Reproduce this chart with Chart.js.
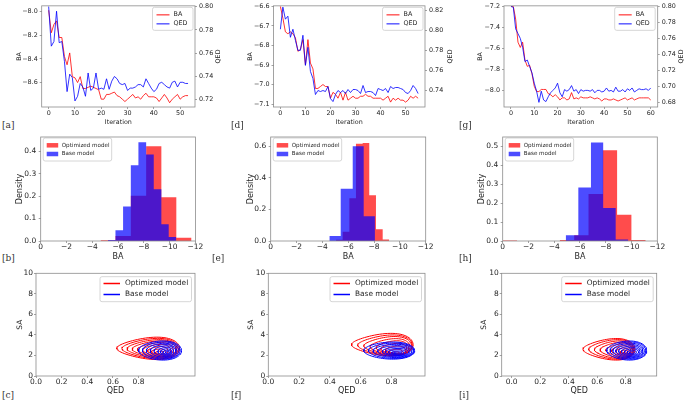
<!DOCTYPE html>
<html>
<head>
<meta charset="utf-8">
<script src="https://cdn.jsdelivr.net/npm/chart.js@4.4.1/dist/chart.umd.min.js"></script>
<style>
body { margin: 0; background: #fff; width: 685px; height: 402px; overflow: hidden; position: relative; }
canvas { position: absolute; }
.tag { position: absolute; font: 9px 'DejaVu Serif'; color: #333; }
</style>
</head>
<body>
<canvas id="chart-a"></canvas>
<canvas id="chart-d"></canvas>
<canvas id="chart-g"></canvas>
<canvas id="chart-b"></canvas>
<canvas id="chart-e"></canvas>
<canvas id="chart-h"></canvas>
<canvas id="chart-c"></canvas>
<canvas id="chart-f"></canvas>
<canvas id="chart-i"></canvas>
<div class="tag" style="left:2px;top:120px">[a]</div>
<div class="tag" style="left:231px;top:120px">[d]</div>
<div class="tag" style="left:459px;top:120px">[g]</div>
<div class="tag" style="left:2px;top:253px">[b]</div>
<div class="tag" style="left:212px;top:253px">[e]</div>
<div class="tag" style="left:459px;top:253px">[h]</div>
<div class="tag" style="left:2px;top:390px">[c]</div>
<div class="tag" style="left:231px;top:390px">[f]</div>
<div class="tag" style="left:459px;top:390px">[i]</div>
<script>
// ---- top row: optimisation traces (one value per iteration) ----
const lineNames = ['BA', 'QED']

const aBA = [-7.99,-8.18,-8.11,-8.08,-8.22,-8.22,-8.38,-8.45,-8.35,-8.55,
  -8.56,-8.60,-8.55,-8.65,-8.65,-8.64,-8.63,-8.64,-8.65,-8.66,
  -8.74,-8.74,-8.70,-8.70,-8.69,-8.68,-8.71,-8.72,-8.74,-8.76,
  -8.74,-8.72,-8.70,-8.73,-8.72,-8.74,-8.71,-8.69,-8.72,-8.72,
  -8.72,-8.73,-8.76,-8.73,-8.70,-8.73,-8.77,-8.74,-8.72,-8.70,
  -8.74,-8.72,-8.71,-8.71]
const aQED = [0.800,0.766,0.770,0.796,0.769,0.770,0.753,0.727,0.742,0.739,
  0.719,0.723,0.734,0.731,0.723,0.743,0.728,0.730,0.743,0.729,
  0.730,0.729,0.738,0.729,0.736,0.740,0.738,0.734,0.733,0.734,
  0.728,0.730,0.730,0.731,0.733,0.733,0.731,0.738,0.734,0.730,
  0.727,0.729,0.734,0.735,0.733,0.731,0.730,0.735,0.736,0.731,
  0.735,0.735,0.734,0.734]

const dBA = [-6.60,-6.66,-6.73,-6.74,-6.73,-6.74,-6.76,-6.83,-6.82,-6.77,
  -6.90,-6.77,-6.89,-6.92,-7.02,-7.02,-7.01,-7.00,-7.01,-7.01,
  -7.07,-7.04,-7.05,-7.07,-7.04,-7.08,-7.04,-7.08,-7.07,-7.06,
  -7.07,-7.07,-7.06,-7.06,-7.05,-7.06,-7.06,-7.07,-7.07,-7.07,
  -7.07,-7.08,-7.07,-7.06,-7.09,-7.07,-7.08,-7.07,-7.08,-7.08,
  -7.09,-7.08,-7.06,-7.07,-7.06,-7.07]
const dQED = [0.801,0.823,0.811,0.814,0.793,0.801,0.790,0.780,0.780,0.795,
  0.765,0.783,0.759,0.752,0.736,0.740,0.739,0.740,0.739,0.744,
  0.732,0.729,0.736,0.740,0.738,0.740,0.737,0.741,0.738,0.741,
  0.741,0.740,0.737,0.745,0.738,0.739,0.739,0.738,0.735,0.742,
  0.741,0.740,0.742,0.738,0.744,0.742,0.743,0.743,0.742,0.741,
  0.738,0.737,0.740,0.745,0.742,0.737]

const gBA = [-7.20,-7.20,-7.32,-7.54,-7.59,-7.54,-7.71,-7.77,-7.76,-7.84,
  -7.96,-8.01,-8.01,-7.99,-7.99,-7.99,-8.03,-8.04,-8.06,-8.04,
  -8.06,-8.09,-8.07,-8.07,-8.09,-8.08,-8.02,-8.08,-8.07,-8.08,
  -8.06,-8.07,-8.07,-8.07,-8.06,-8.07,-8.08,-8.07,-8.08,-8.10,
  -8.08,-8.08,-8.09,-8.09,-8.08,-8.09,-8.10,-8.09,-8.08,-8.07,
  -8.09,-8.08,-8.07,-8.09,-8.08,-8.07,-8.07,-8.07,-8.07,-8.07,
  -8.09]
const gQED = [0.800,0.799,0.772,0.766,0.760,0.749,0.731,0.733,0.725,0.717,
  0.704,0.694,0.680,0.694,0.683,0.681,0.687,0.692,0.695,0.698,
  0.704,0.692,0.687,0.696,0.694,0.696,0.701,0.694,0.696,0.691,
  0.696,0.694,0.695,0.695,0.694,0.696,0.692,0.695,0.695,0.693,
  0.694,0.698,0.694,0.695,0.693,0.699,0.694,0.694,0.696,0.693,
  0.697,0.695,0.698,0.693,0.695,0.697,0.696,0.696,0.697,0.695,
  0.698]

// ---- middle row: BA histograms (bin edges + density per bin) ----
const modelNames = ['Optimized model', 'Base model']

const bOptEdges = [-4.64,-5.80,-6.99,-8.18,-9.36,-10.52,-11.70]
const bOptDensity = [0.003,0.022,0.202,0.422,0.195,0.015]
const bBaseEdges = [-5.22,-5.80,-6.39,-6.99,-7.58,-8.18,-8.77,-9.36,-9.93,-10.52]
const bBaseDensity = [0.005,0.048,0.154,0.337,0.440,0.385,0.230,0.075,0.018]

const eOptEdges = [-5.06,-5.57,-6.09,-6.60,-7.12,-7.63,-8.15,-8.67,-9.18]
const eOptDensity = [0.008,0.058,0.270,0.615,0.620,0.290,0.075,0.010]
const eBaseEdges = [-4.54,-5.42,-6.35,-7.20,-8.07]
const eBaseDensity = [0.031,0.330,0.600,0.156]

const hOptEdges = [0,-1.11,-2.22,-3.33,-4.44,-5.55,-6.66,-7.77,-8.88,-9.99,-11.10]
const hOptDensity = [0.003,0,0,0,0.005,0.030,0.248,0.479,0.139,0.005]
const hBaseEdges = [-4.89,-5.87,-6.85,-7.80,-8.77,-9.75]
const hBaseDensity = [0.031,0.283,0.520,0.174,0.008]

// ---- bottom row: KDE contour rings, each [QED left, QED right, SA top, SA bottom] ----
const cOptRings = [[0.63,1.12,3.73,1.65],[0.67,1.11,3.62,1.72],[0.71,1.10,3.50,1.80],[0.75,1.09,3.38,1.86],
  [0.79,1.07,3.22,1.92],[0.83,1.05,3.05,1.98],[0.87,1.03,2.85,2.04],[0.90,1.01,2.62,2.10],[0.93,0.99,2.42,2.15]]
const cBaseRings = [[0.80,1.135,3.40,1.56],[0.83,1.125,3.30,1.65],[0.86,1.115,3.18,1.73],[0.89,1.10,3.05,1.82],
  [0.92,1.09,2.92,1.90],[0.95,1.075,2.78,1.98],[0.97,1.06,2.64,2.05],[0.99,1.05,2.50,2.12],[1.01,1.04,2.38,2.20]]

const fOptRings = [[0.54,0.94,4.10,2.00],[0.58,0.935,3.95,2.03],[0.62,0.93,3.80,2.06],[0.66,0.92,3.60,2.08],
  [0.70,0.91,3.40,2.10],[0.73,0.90,3.15,2.12],[0.76,0.89,2.90,2.14],[0.78,0.87,2.60,2.16],[0.80,0.85,2.35,2.18]]
const fBaseRings = [[0.62,0.95,3.30,1.65],[0.65,0.945,3.20,1.72],[0.68,0.94,3.08,1.80],[0.71,0.93,2.95,1.87],
  [0.74,0.92,2.82,1.94],[0.76,0.91,2.68,2.00],[0.78,0.895,2.55,2.06],[0.80,0.88,2.42,2.12],[0.815,0.865,2.32,2.17]]

const iOptRings = [[0.50,0.865,3.60,1.60],[0.54,0.86,3.50,1.67],[0.58,0.855,3.38,1.74],[0.62,0.85,3.25,1.82],
  [0.66,0.845,3.10,1.90],[0.70,0.835,2.92,1.98],[0.73,0.825,2.72,2.05],[0.76,0.815,2.52,2.12],[0.78,0.805,2.35,2.18]]
const iBaseRings = [[0.667,0.947,3.40,1.56],[0.69,0.94,3.30,1.64],[0.71,0.93,3.18,1.72],[0.73,0.92,3.05,1.80],
  [0.75,0.91,2.92,1.88],[0.77,0.90,2.78,1.96],[0.79,0.89,2.64,2.04],[0.81,0.875,2.50,2.11],[0.825,0.86,2.36,2.18]]

// ---- tick labels ----
const iterTicks50 = [0, 10, 20, 30, 40, 50]
const iterTicks60 = [0, 10, 20, 30, 40, 50, 60]
const aBATicks = [-8.6, -8.4, -8.2, -8.0]
const aQEDTicks = [0.72, 0.74, 0.76, 0.78, 0.80]
const dBATicks = [-7.1, -7.0, -6.9, -6.8, -6.7, -6.6]
const dQEDTicks = [0.74, 0.76, 0.78, 0.80, 0.82]
const gBATicks = [-8.0, -7.8, -7.6, -7.4, -7.2]
const gQEDTicks = [0.68, 0.70, 0.72, 0.74, 0.76, 0.78, 0.80]
const baTicks = [0, -2, -4, -6, -8, -10, -12]
const bDensityTicks = [0, 0.1, 0.2, 0.3, 0.4]
const eDensityTicks = [0, 0.2, 0.4, 0.6]
const hDensityTicks = [0, 0.1, 0.2, 0.3, 0.4, 0.5]
const qedTicks = [0, 0.2, 0.4, 0.6, 0.8]
const saTicks = [0, 2, 4, 6, 8, 10]


const textColor = '#262626'
const frameColor = '#8c8c8c'
const redLine = 'rgba(255,0,0,0.8)'
const blueLine = 'rgba(0,0,255,0.8)'
const redFill = 'rgba(255,0,0,0.7)'
const blueFill = 'rgba(0,0,255,0.7)'

Chart.defaults.font.family = "'DejaVu Sans'"
Chart.defaults.color = textColor
Chart.defaults.animation = false
Chart.defaults.responsive = false
Chart.defaults.devicePixelRatio = 1
Chart.defaults.plugins.legend.display = false
Chart.defaults.plugins.tooltip.enabled = false

// outline round the plot area, like matplotlib spines
const framePlugin = {
    id: 'frame',
    afterDraw(chart) {
        var a = chart.chartArea, ctx = chart.ctx
        ctx.save()
        ctx.strokeStyle = frameColor
        ctx.lineWidth = 0.8
        ctx.strokeRect(a.left, a.top, a.right - a.left, a.bottom - a.top)
        ctx.restore()
    }
}

// title of the right-hand axis, read bottom to top as matplotlib does
const rightTitlePlugin = {
    id: 'rightTitle',
    afterDraw(chart, args, o) {
        if (!o || !o.text) return
        var a = chart.chartArea, ctx = chart.ctx
        ctx.save()
        ctx.translate(a.right + o.gap, (a.top + a.bottom) / 2)
        ctx.rotate(-Math.PI / 2)
        ctx.font = o.font + "px 'DejaVu Sans'"
        ctx.fillStyle = textColor
        ctx.textAlign = 'center'
        ctx.textBaseline = 'middle'
        ctx.fillText(o.text, 0, 0)
        ctx.restore()
    }
}

// legend drawn inside the plot area, in a rounded box
const boxLegendPlugin = {
    id: 'boxLegend',
    afterDatasetsDraw(chart, args, o) {
        if (!o || !o.items) return
        var ctx = chart.ctx, a = chart.chartArea
        var x0 = o.corner === 'left' ? a.left + o.dx : a.right - o.dx - o.w
        var y0 = a.top + o.dy
        ctx.save()
        ctx.beginPath()
        ctx.roundRect(x0, y0, o.w, o.h, 2)
        ctx.fillStyle = 'rgba(255,255,255,0.8)'
        ctx.fill()
        ctx.strokeStyle = '#cccccc'
        ctx.lineWidth = 0.8
        ctx.stroke()
        ctx.font = o.font + "px 'DejaVu Sans'"
        ctx.textBaseline = 'middle'
        o.items.forEach(function (it, k) {
            var y = y0 + o.rows[k]
            if (o.kind === 'patch') {
                ctx.fillStyle = it.color
                ctx.fillRect(x0 + o.hx, y - o.ph / 2, o.hl, o.ph)
            } else {
                ctx.strokeStyle = it.color
                ctx.lineWidth = o.lw
                ctx.beginPath()
                ctx.moveTo(x0 + o.hx, y)
                ctx.lineTo(x0 + o.hx + o.hl, y)
                ctx.stroke()
            }
            ctx.fillStyle = textColor
            ctx.fillText(it.label, x0 + o.tx, y)
        })
        ctx.restore()
    }
}

Chart.register(framePlugin, rightTitlePlugin, boxLegendPlugin)


function fmt(dec) {
    return function (v) { return Number(v).toFixed(dec).replace('-', '\u2212') }
}

// place a canvas so that its chart area lands on the given plot rectangle
function placeCanvas(id, plot, side) {
    var c = document.getElementById(id)
    var left = Math.floor(plot.l - side.left)
    var top = Math.floor(plot.t - side.top)
    var right = Math.ceil(plot.r + side.right)
    var bottom = Math.ceil(plot.b + side.bottom)
    c.style.left = left + 'px'
    c.style.top = top + 'px'
    c.width = right - left
    c.height = bottom - top
    return {
        left: plot.l - left, top: plot.t - top, right: right - plot.r, bottom: bottom - plot.b,
        extraL: (plot.l - left) - side.left, extraB: (bottom - plot.b) - side.bottom
    }
}

function makeAxis(pos, o) {
    var horizontal = pos === 'bottom'
    return {
        type: 'linear', position: pos, min: o.min, max: o.max, reverse: !!o.reverse,
        afterBuildTicks: function (s) { s.ticks = o.ticks.map(function (v) { return { value: v } }) },
        afterFit: function (s) { if (horizontal) s.height = o.size; else s.width = o.size },
        grid: { display: true, drawOnChartArea: false, drawTicks: true, tickLength: 2, color: frameColor, lineWidth: 0.8 },
        border: { display: false },
        ticks: { font: { size: o.font }, color: textColor, padding: o.pad, callback: fmt(o.dec), maxRotation: 0, autoSkip: false },
        title: { display: !!o.title, text: o.title || '', color: textColor, font: { size: o.titleFont }, padding: { top: o.tpad, bottom: o.tpad } }
    }
}

function traceChart(id, plot, side, baVals, qedVals, xr, baAxis, qedAxis, xTicks, legendDx, titleGap) {
    var s = placeCanvas(id, plot, side)
    var f = 6.4
    new Chart(document.getElementById(id), {
        type: 'line',
        data: {
            datasets: [{
                label: lineNames[1], yAxisID: 'y1',
                data: qedVals.map(function (v, i) { return { x: i, y: v } }),
                borderColor: blueLine, borderWidth: 1, pointRadius: 0, tension: 0, fill: false
            }, {
                label: lineNames[0], yAxisID: 'y',
                data: baVals.map(function (v, i) { return { x: i, y: v } }),
                borderColor: redLine, borderWidth: 1, pointRadius: 0, tension: 0, fill: false
            }]
        },
        options: {
            layout: { padding: { top: s.top, left: 0, right: 0, bottom: 0 } },
            scales: {
                x: makeAxis('bottom', { min: xr[0], max: xr[1], ticks: xTicks, dec: 0, size: s.bottom, font: f, pad: 0.5, title: 'Iteration', titleFont: f, tpad: s.extraB }),
                y: makeAxis('left', { min: baAxis.min, max: baAxis.max, ticks: baAxis.ticks, dec: 1, size: s.left, font: f, pad: 2, title: lineNames[0], titleFont: f, tpad: s.extraL }),
                y1: makeAxis('right', { min: qedAxis.min, max: qedAxis.max, ticks: qedAxis.ticks, dec: 2, size: s.right, font: f, pad: 2 })
            },
            plugins: {
                rightTitle: { text: lineNames[1], gap: titleGap, font: f },
                boxLegend: {
                    corner: 'right', dx: legendDx, dy: 1.5, w: 40.5, h: 23, font: f, kind: 'line', lw: 1.2,
                    hx: 4, hl: 13, tx: 21, rows: [7.5, 16.5],
                    items: [{ label: lineNames[0], color: redLine }, { label: lineNames[1], color: blueLine }]
                }
            }
        }
    })
}

// stepped outline of a histogram from its edges and heights
function histPoints(edges, heights) {
    var pts = [{ x: edges[0], y: 0 }]
    heights.forEach(function (h, k) { pts.push({ x: edges[k], y: h }) })
    pts.push({ x: edges[edges.length - 1], y: heights[heights.length - 1] })
    pts.push({ x: edges[edges.length - 1], y: 0 })
    return pts
}

function histChart(id, plot, side, optEdges, optDensity, baseEdges, baseDensity, yr, yTicks) {
    var s = placeCanvas(id, plot, side)
    new Chart(document.getElementById(id), {
        type: 'line',
        data: {
            datasets: [{
                label: modelNames[1], data: histPoints(baseEdges, baseDensity),
                stepped: true, fill: 'origin', backgroundColor: blueFill, borderWidth: 0, pointRadius: 0
            }, {
                label: modelNames[0], data: histPoints(optEdges, optDensity),
                stepped: true, fill: 'origin', backgroundColor: redFill, borderWidth: 0, pointRadius: 0
            }]
        },
        options: {
            layout: { padding: { top: s.top, left: 0, right: s.right, bottom: 0 } },
            scales: {
                x: makeAxis('bottom', { min: -12, max: 0, reverse: true, ticks: baTicks, dec: 0, size: s.bottom, font: 7.5, pad: 0, title: 'BA', titleFont: 8, tpad: s.extraB }),
                y: makeAxis('left', { min: yr[0], max: yr[1], ticks: yTicks, dec: 1, size: s.left, font: 7.5, pad: 2.5, title: 'Density', titleFont: 8, tpad: s.extraL })
            },
            plugins: {
                boxLegend: {
                    corner: 'left', dx: 2.5, dy: 1, w: 68.5, h: 23, font: 5.6, kind: 'patch', ph: 4.5,
                    hx: 3.5, hl: 11.5, tx: 18.5, rows: [7.3, 16],
                    items: [{ label: modelNames[0], color: redFill }, { label: modelNames[1], color: blueFill }]
                }
            }
        }
    })
}

// one closed contour ring through its left/right/top/bottom extents, narrower on the low-QED side
function ringPoints(ring, egg) {
    var cx = (ring[0] + ring[1]) / 2, rx = (ring[1] - ring[0]) / 2
    var cy = (ring[2] + ring[3]) / 2, ry = (ring[2] - ring[3]) / 2
    var pts = []
    for (var k = 0; k <= 72; k++) {
        var a = k / 72 * 2 * Math.PI
        var squeeze = (1 - egg * (1 - Math.cos(a)) / 2) / (1 - egg / 2)
        pts.push({ x: cx + rx * Math.cos(a), y: cy + ry * Math.sin(a) * squeeze })
    }
    return pts
}

function contourChart(id, plot, side, optRings, baseRings, xr) {
    var s = placeCanvas(id, plot, side)
    var sets = []
    baseRings.forEach(function (r) {
        sets.push({ label: modelNames[1], data: ringPoints(r, 0.25), borderColor: 'rgb(0,0,255)', borderWidth: 1, pointRadius: 0, tension: 0, fill: false })
    })
    optRings.forEach(function (r) {
        sets.push({ label: modelNames[0], data: ringPoints(r, 0.5), borderColor: 'rgb(255,0,0)', borderWidth: 1, pointRadius: 0, tension: 0, fill: false })
    })
    new Chart(document.getElementById(id), {
        type: 'line',
        data: { datasets: sets },
        options: {
            layout: { padding: { top: s.top, left: 0, right: s.right, bottom: 0 } },
            scales: {
                x: makeAxis('bottom', { min: xr[0], max: xr[1], ticks: qedTicks, dec: 1, size: s.bottom, font: 7.5, pad: 0, title: 'QED', titleFont: 8, tpad: s.extraB }),
                y: makeAxis('left', { min: 0, max: 10, ticks: saTicks, dec: 0, size: s.left, font: 7.5, pad: 1, title: 'SA', titleFont: 7.5, tpad: s.extraL })
            },
            plugins: {
                boxLegend: {
                    corner: 'right', dx: 3.5, dy: 3.4, w: 91.5, h: 25, font: 7.4, kind: 'line', lw: 1.5,
                    hx: 3.5, hl: 16.5, tx: 25, rows: [6.8, 17.8],
                    items: [{ label: modelNames[0], color: '#ff0000' }, { label: modelNames[1], color: '#0000ff' }]
                }
            }
        }
    })
}


traceChart('chart-a', { l: 41.7, t: 5, r: 195, b: 107 }, { left: 26.5, right: 30, top: 5, bottom: 19.5 },
    aBA, aQED, [-2.65, 55.65], { min: -8.806, max: -7.953, ticks: aBATicks }, { min: 0.7138, max: 0.8006, ticks: aQEDTicks }, iterTicks50, 2, 23.3)
traceChart('chart-d', { l: 273.5, t: 5, r: 425, b: 107 }, { left: 27.3, right: 30, top: 5, bottom: 19.5 },
    dBA, dQED, [-2.75, 57.75], { min: -7.115, max: -6.597, ticks: dBATicks }, { min: 0.7236, max: 0.8243, ticks: dQEDTicks }, iterTicks50, 2, 25)
traceChart('chart-g', { l: 504, t: 5, r: 657.7, b: 107 }, { left: 27.8, right: 27.3, top: 5, bottom: 19.5 },
    gBA, gQED, [-3, 63], { min: -8.157, max: -7.194, ticks: gBATicks }, { min: 0.6742, max: 0.8008, ticks: gQEDTicks }, iterTicks60, 2.5, 24)

histChart('chart-b', { l: 40.7, t: 135.7, r: 195.4, b: 241 }, { left: 25.5, right: 12, top: 5, bottom: 20.5 },
    bOptEdges, bOptDensity, bBaseEdges, bBaseDensity, [0, 0.463], bDensityTicks)
histChart('chart-e', { l: 270.7, t: 135.7, r: 425.7, b: 241 }, { left: 24.8, right: 12, top: 5, bottom: 20.5 },
    eOptEdges, eOptDensity, eBaseEdges, eBaseDensity, [0, 0.658], eDensityTicks)
histChart('chart-h', { l: 502.7, t: 135.7, r: 657.3, b: 241 }, { left: 25.2, right: 12, top: 5, bottom: 20.5 },
    hOptEdges, hOptDensity, hBaseEdges, hBaseDensity, [0, 0.549], hDensityTicks)

contourChart('chart-c', { l: 36, t: 273.3, r: 195, b: 376 }, { left: 20.5, right: 12, top: 6, bottom: 20.2 },
    cOptRings, cBaseRings, [0, 1.24])
contourChart('chart-f', { l: 268.3, t: 273.3, r: 425, b: 376 }, { left: 22.1, right: 12, top: 6, bottom: 20.2 },
    fOptRings, fBaseRings, [0, 1.017])
contourChart('chart-i', { l: 501.7, t: 273.3, r: 656.7, b: 376 }, { left: 21.9, right: 12, top: 6, bottom: 20.2 },
    iOptRings, iBaseRings, [-0.07, 1.017])
</script>
</body>
</html>
